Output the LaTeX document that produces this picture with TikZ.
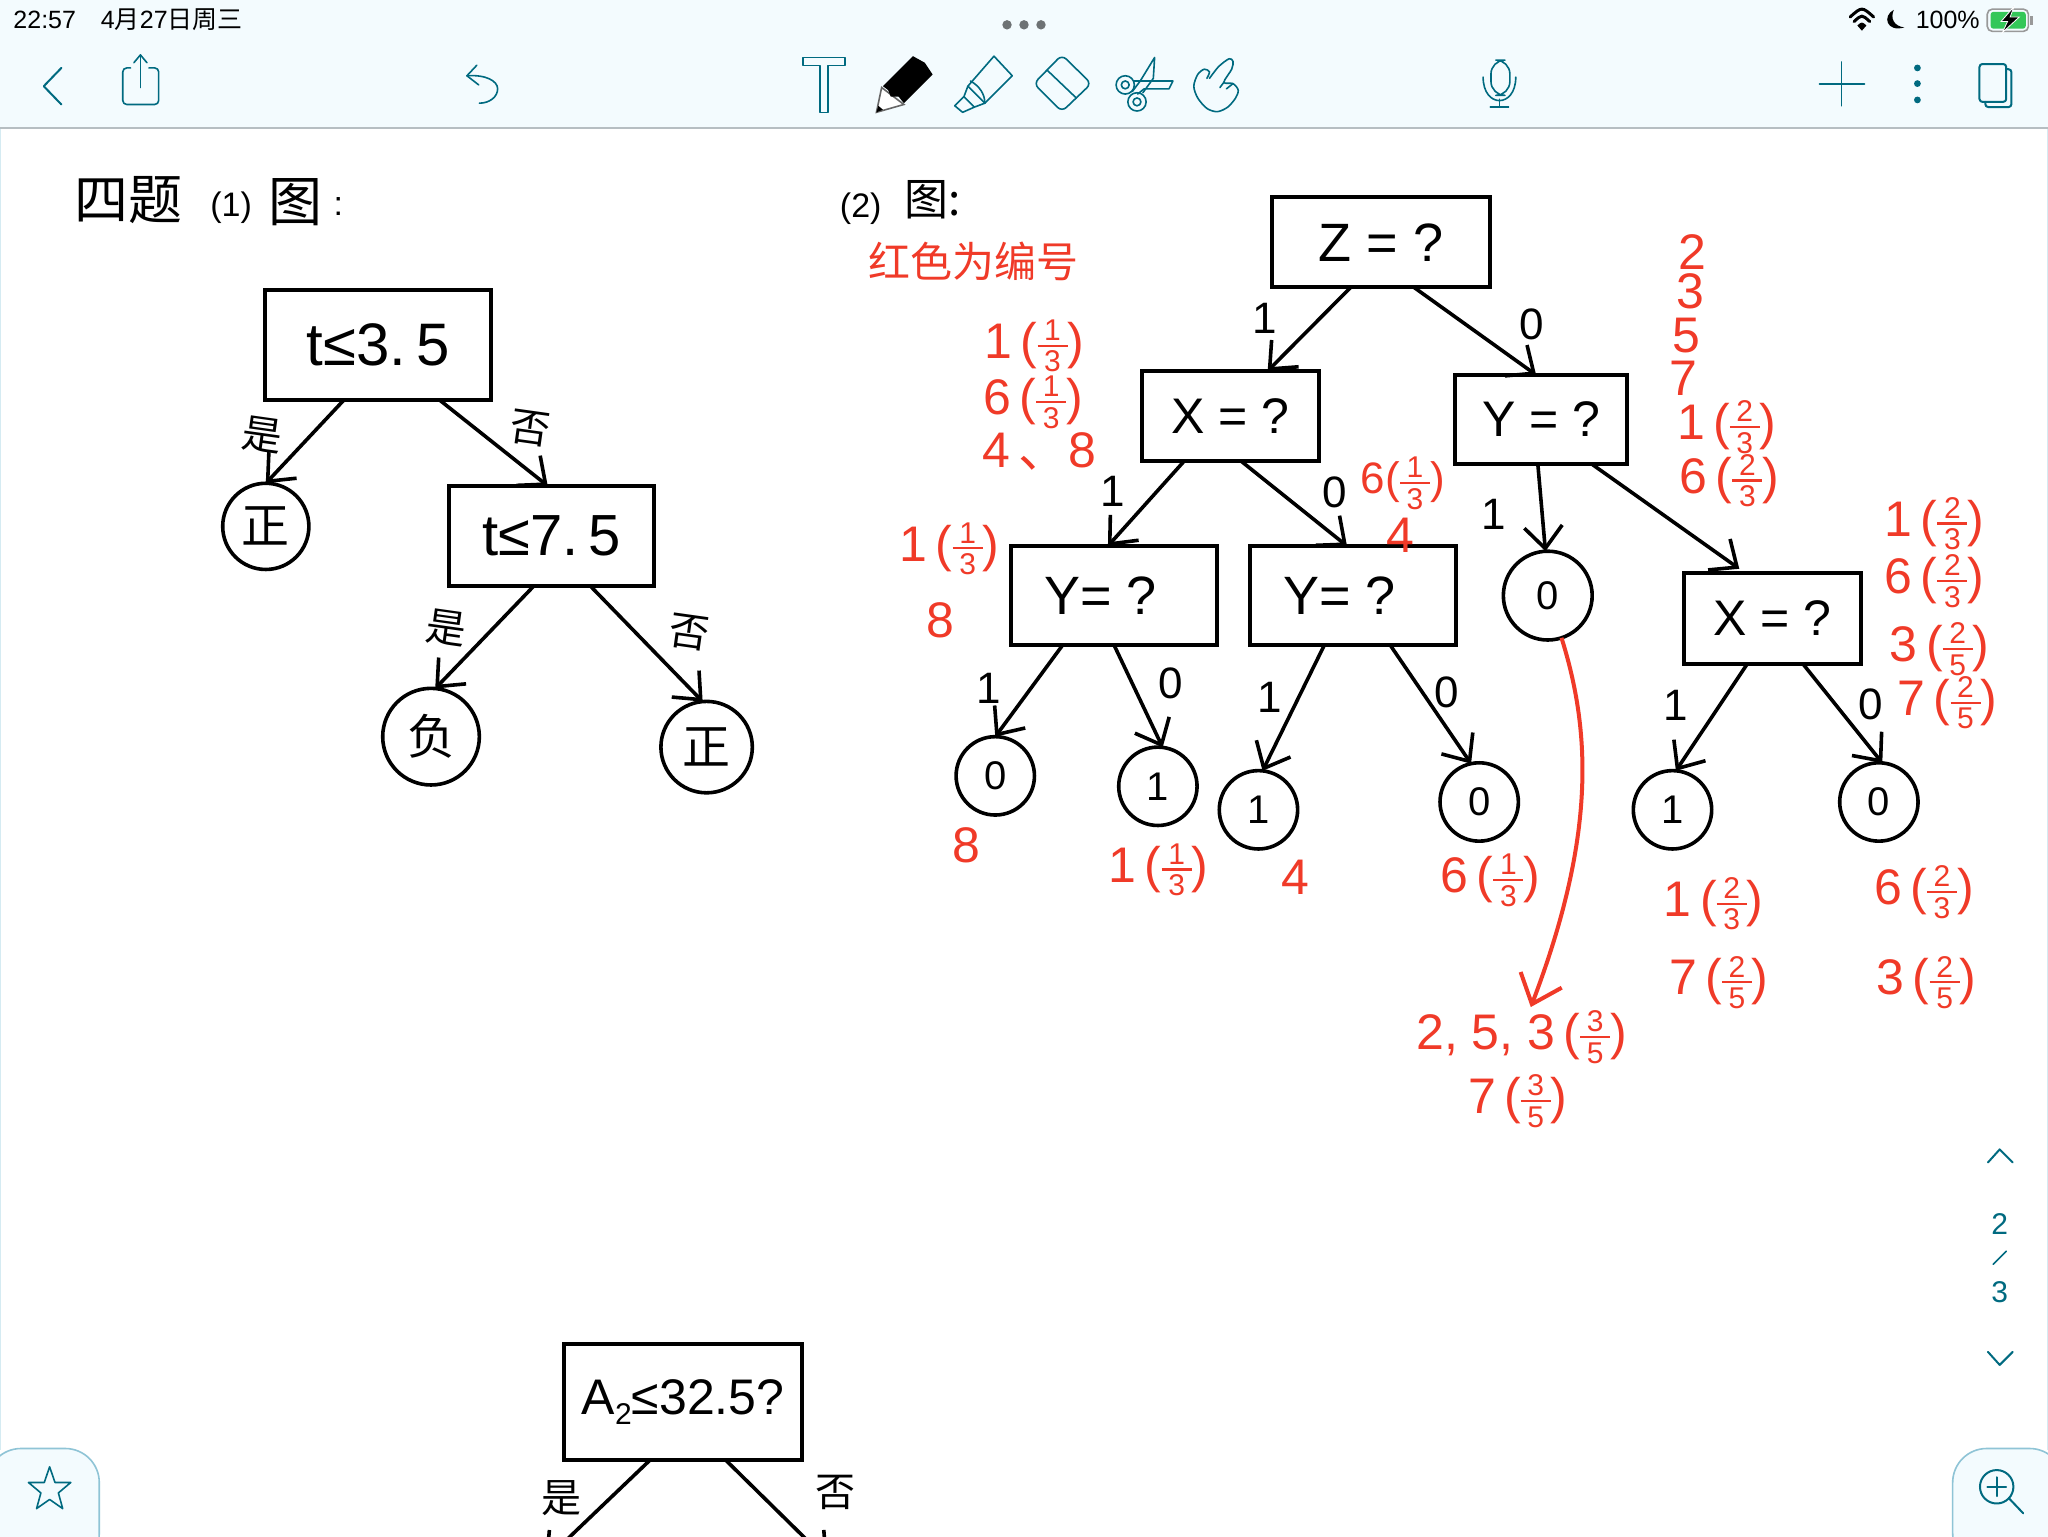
\documentclass[tikz,border=0pt]{standalone}
\usepackage{fontspec}
\setmainfont{Liberation Sans}
\newfontfamily\cjk{Noto Sans CJK SC}
\usetikzlibrary{calc,arrows.meta}
\definecolor{barbg}{HTML}{F3FBFE}
\definecolor{barline}{HTML}{B6BEC2}
\definecolor{icon}{HTML}{006A80}
\definecolor{inkred}{HTML}{F03A28}
\definecolor{tabline}{HTML}{8FC4D6}
\definecolor{battgreen}{HTML}{34C759}
\newcommand\fs[1]{\fontsize{#1}{#1}\selectfont}
\newcommand\fr[2]{$\vcenter{\offinterlineskip\halign{\hfil##\hfil\cr\hbox{\fs{15}#1}\cr\noalign{\vskip2pt}\vrule width 15pt height 1.2pt\cr\noalign{\vskip2pt}\hbox{\fs{15}#2}\cr}}$}
\newcommand\rf[3]{#1\,(\fr{#2}{#3})}
\tikzset{
  decbox/.style={draw=black,line width=2pt,inner sep=0pt,outer sep=0pt},
  leaf/.style={draw=black,circle,line width=1.8pt,inner sep=0pt,outer sep=0pt,font=\fs{20}},
  conn/.style={draw=black,line width=1.8pt,-{Straight Barb[length=11pt,width=19pt,line width=1.8pt]}},
  redconn/.style={draw=inkred,line width=2pt,-{Straight Barb[length=13pt,width=22pt,line width=2pt]}},
  redtxt/.style={text=inkred,font=\fs{25},inner sep=0pt},
  blk/.style={text=black,font=\fs{22},inner sep=0pt},
  han/.style={text=black,font=\fs{20}\cjk,inner sep=0pt},
  ui/.style={draw=icon,line width=0.8pt,line join=round,line cap=round},
  status/.style={text=black,font=\fs{12.5},inner sep=0pt},
}
\newcommand\boxn[7][]{\node[decbox,minimum width={(#3-#2)*0.653pt},minimum height={(#5-#4)*0.653pt},font=\fs{#6},#1] (#7) at ({(#2+#3)/2},{(#4+#5)/2})}
\newcommand\leafn[5]{\node[leaf,minimum size={2*#4*0.653pt}] (#1) at (#2,#3) {#5};}
\newcommand\edgeBB[4]{\draw[conn] ($(#1.south west)!#2!(#1.south east)$) -- ($(#3.north west)!#4!(#3.north east)$);}
\newcommand\edgeBC[4]{\draw[conn] ($(#1.south west)!#2!(#1.south east)$) -- (#3.#4);}
\begin{document}
\begin{tikzpicture}[x=0.653061pt,y=-0.653061pt]
\useasboundingbox (0,0) rectangle (1568,1176);
\clip (0,0) rectangle (1568,1176);
\fill[white] (0,0) rectangle (1568,1176);
% edges of page
\draw[barbg!70!tabline,line width=0.8pt] (0.4,98) -- (0.4,1110);
\draw[barbg!70!tabline,line width=0.8pt] (1567.6,98) -- (1567.6,1110);
% top bar
\fill[barbg] (0,0) rectangle (1568,98);
\draw[barline,line width=0.8pt] (0,98) -- (1568,98);
\node[status,anchor=west] (clock) at (10,15) {22:57};
\node[status,anchor=west] (date) at (77,15) {4{\cjk 月}27{\cjk 日周三}};
\node[status,anchor=east] (batt) at (1516,15) {100\%};
\foreach \x in {771,784,797} \fill[black!40!barline] (\x,19) circle[radius=3.6];
% wifi
\draw[black,line width=1.5pt,line cap=round] (1416.5,13) .. controls (1425.5,5) .. (1434.5,13);
\draw[black,line width=1.5pt,line cap=round] (1419.5,16.5) .. controls (1425.5,11) .. (1431.5,16.5);
\fill[black] (1425.5,23.5) -- (1422,19.5) .. controls (1425.5,16.5) .. (1429,19.5) -- cycle;
% moon
\fill[black] (1450,7.5) .. controls (1441,12) and (1444,25) .. (1458,21) .. controls (1450,20) and (1447,14) .. cycle;
% battery
\draw[black!40,rounded corners=2.5pt,line width=0.8pt] (1521.5,7) rectangle (1553,24);
\fill[battgreen,rounded corners=1.5pt] (1524,9) rectangle (1551,22);
\fill[black!40] (1554.5,12) rectangle (1556.5,19);
\filldraw[black,draw=white,line width=0.4pt] (1542,5) -- (1532,16.5) -- (1537,16.5) -- (1533,25) -- (1546,13) -- (1539,13) -- cycle;
% left toolbar icons
\draw[ui,line width=1pt] (47,52) -- (33.5,66) -- (47,80);
\draw[ui,rounded corners=2pt] (100,52) -- (94,52) -- (94,80) -- (121.5,80) -- (121.5,52) -- (114,52);
\draw[ui] (107.5,67) -- (107.5,42);
\draw[ui] (102.5,48) -- (107.5,42) -- (112.5,48);
\draw[ui] (365,50) -- (357.5,58) -- (366.5,65);
\draw[ui] (357.5,58) .. controls (372,57) and (381,62) .. (381,68) .. controls (381,74) and (375,79) .. (367,79);
% T
\draw[ui] (615,44) -- (647,44) -- (647,50) -- (634,50) -- (634,86) -- (628,86) -- (628,50) -- (615,50) -- cycle;
% pencil
\filldraw[white,draw=black!60,line width=0.8pt] (671,86) -- (675,67) -- (692,80) -- cycle;
\fill[black] (671,86) -- (672.5,81) -- (676,84) -- cycle;
\fill[black] (676,66) -- (699,43) -- (708,48) -- (714,57) -- (692,79) -- (688,74) -- (682,74) -- (680,69) -- cycle;
% highlighter
\draw[ui] (761,43) -- (775,58) -- (754,79) -- (741,66) -- cycle;
\draw[ui] (741,66) -- (738,74) -- (746,82) -- (754,79);
\draw[ui] (738,74) -- (731,81) -- (737,86) -- (746,82);
\draw[ui] (743,62) .. controls (750,66) and (754,72) .. (754,79);
% eraser
\draw[ui,rounded corners=3pt] (813,42) -- (835.5,64) -- (813,85.5) -- (791.5,64) -- cycle;
\draw[ui] (802,54) -- (824,75);
% scissors
\draw[ui] (861.5,65) circle[radius=7];
\draw[ui] (861.5,65) circle[radius=3];
\draw[ui] (870.5,78) circle[radius=7];
\draw[ui] (870.5,78) circle[radius=3];
\draw[ui] (867,70) -- (873,62) -- (884,44) -- (883,60) -- (875,71);
\draw[ui] (868,62) -- (898,62) -- (895,68) -- (876,68) -- (871,72);
% hand
\draw[ui] plot[smooth] coordinates {(926,60) (933,51) (941,45) (944,47) (943,53) (937,63) (944,64) (948,69) (946,75) (940,82) (932,85.5) (924,83) (917,75) (914,66) (917,57) (922,53) (926,55) (924,60)};
\draw[ui] (937,63) -- (934,67);
\draw[ui] (944,64) -- (939,68);
% mic
\draw[ui,rounded corners=7pt] (1141.5,46) rectangle (1156,73);
\draw[ui] (1135.5,59) .. controls (1135.5,83) and (1160.5,83) .. (1160.5,59);
\draw[ui] (1148,76) -- (1148,82);
\draw[ui] (1141,82) -- (1155,82);
% plus, dots, pages
\draw[ui] (1393,64.5) -- (1427.5,64.5);
\draw[ui] (1410,47.5) -- (1410,81);
\foreach \y in {52,64,76.5} \fill[icon] (1468,\y) circle[radius=2.6];
\draw[ui,line width=1pt,rounded corners=1.5pt] (1515.5,49) rectangle (1536,78);
\draw[ui,line width=1pt,rounded corners=1.5pt] (1536,53) -- (1540,53) -- (1540,82) -- (1520,82) -- (1520,78);
% side pager
\draw[ui,line width=1pt] (1522,890) -- (1531,880) -- (1541,890);
\node[text=icon,font=\fs{15},inner sep=0pt] (pg2) at (1531,937) {2};
\draw[ui] (1526,968) -- (1536,958);
\node[text=icon,font=\fs{15},inner sep=0pt] (pg3) at (1531,989) {3};
\draw[ui,line width=1pt] (1522,1035) -- (1531,1045) -- (1541,1035);
% bottom tabs
\filldraw[fill=barbg,draw=tabline,line width=0.8pt,rounded corners=17pt] (-10,1109) -- (76,1109) -- (76,1200) -- (-10,1200) -- cycle;
\filldraw[fill=barbg,draw=tabline,line width=0.8pt,rounded corners=17pt] (1580,1109) -- (1495,1109) -- (1495,1200) -- (1580,1200) -- cycle;
\draw[ui] (38,1123) -- (42.1,1135) -- (54.2,1135) -- (44.7,1143) -- (48,1155) -- (38,1148) -- (28,1155) -- (31.3,1143) -- (21.8,1135) -- (33.9,1135) -- cycle;
\draw[ui,line width=1pt] (1528.7,1138.3) circle[radius=12.8];
\draw[ui,line width=1pt] (1538,1147) -- (1549,1158.6);
\draw[ui,line width=1pt] (1521.5,1138.3) -- (1536,1138.3);
\draw[ui,line width=1pt] (1528.7,1131) -- (1528.7,1145.5);
% headings
\node[text=black,font=\fs{27}\cjk,inner sep=0pt] (head1a) at (98,153) {四题};
\node[text=black,font=\fs{17},inner sep=0pt] (head1b) at (177,159) {(1)};
\node[text=black,font=\fs{27}\cjk,inner sep=0pt] (head1c) at (226,155) {图};
\node[text=black,font=\fs{17},inner sep=0pt] (head1d) at (259,158) {:};
\node[text=black,font=\fs{17},inner sep=0pt] (head2a) at (659,160) {(2)};
\node[text=black,font=\fs{22}\cjk,inner sep=0pt] (head2b) at (714,153) {图:};
\node[text=inkred,font=\fs{21}\cjk,inner sep=0pt] (redhead) at (745,200) {红色为编号};
% ------- left tree
\boxn{203}{376}{222}{306}{30}{t1} {t≤3.\,5};
\boxn{344}{501}{372}{449}{29}{t2} {t≤7.\,5};
\leafn{p1}{203.5}{403}{33}{\fs{24}\cjk 正}
\leafn{n1}{330}{564}{37}{\fs{24}\cjk 负}
\leafn{p2}{541}{572}{35}{\fs{24}\cjk 正}
\edgeBC{t1}{.35}{p1}{90}
\edgeBB{t1}{.77}{t2}{.48}
\edgeBC{t2}{.41}{n1}{85}
\edgeBC{t2}{.69}{p2}{95}
\node[han,rotate=-8] (ly1) at (201,333) {是};
\node[han,rotate=-8] (ln1) at (406,328) {否};
\node[han,rotate=-8] (ly2) at (342,481) {是};
\node[han,rotate=-8] (ln2) at (528,484) {否};
% ------- right tree
\boxn{974}{1141}{151}{220}{27}{zq} {Z = ?};
\boxn{874}{1010}{284}{353}{25}{xa} {X = ?};
\boxn{1114}{1246}{287}{355}{25}{ya} {Y = ?};
\boxn{774}{932}{418}{494}{27}{yb} {\hspace*{-.5em}Y= ?};
\boxn{957}{1115}{418}{494}{27}{yc} {\hspace*{-.5em}Y= ?};
\boxn{1289}{1425}{439}{508}{25}{xb} {X = ?};
\leafn{c0}{1185}{456}{34}{0}
\leafn{c1}{762}{594}{30}{0}
\leafn{c2}{886.5}{602}{30}{1}
\leafn{c3}{963.5}{620}{30}{1}
\leafn{c4}{1132.5}{614}{30}{0}
\leafn{c5}{1280.5}{620}{30}{1}
\leafn{c6}{1438.5}{614}{30}{0}
\edgeBB{zq}{.36}{xa}{.71}
\edgeBB{zq}{.65}{ya}{.47}
\edgeBB{xa}{.24}{yb}{.47}
\edgeBB{xa}{.56}{yc}{.47}
\edgeBC{ya}{.48}{c0}{93}
\draw[conn,shorten >=4pt] ($(ya.south west)!.79!(ya.south east)$) -- ($(xb.north west)!.35!(xb.north east)$);
\edgeBC{yb}{.25}{c1}{90}
\edgeBC{yb}{.5}{c2}{83}
\edgeBC{yc}{.36}{c3}{84}
\edgeBC{yc}{.68}{c4}{102}
\edgeBC{xb}{.36}{c5}{85}
\edgeBC{xb}{.67}{c6}{85}
% edge labels
\node[blk] (e1) at (968,244) {1};
\node[blk] (e2) at (1173,248) {0};
\node[blk] (e3) at (852,376) {1};
\node[blk] (e4) at (1022,377) {0};
\node[blk] (e5) at (1144,394) {1};
\node[blk] (e6) at (757,527) {1};
\node[blk] (e7) at (896,523) {0};
\node[blk] (e8) at (972,534) {1};
\node[blk] (e9) at (1108,530) {0};
\node[blk] (e10) at (1283,540) {1};
\node[blk] (e11) at (1432,539) {0};
% red annotations
\node[redtxt] (r1) at (1296,193) {2};
\node[redtxt] (r2) at (1294,223) {3};
\node[redtxt] (r3) at (1291,257) {5};
\node[redtxt] (r4) at (1289,290) {7};
\node[redtxt] (r5) at (1322,327) {\rf{1}{2}{3}};
\node[redtxt] (r6) at (1324,368) {\rf{6}{2}{3}};
\node[redtxt] (r7) at (792,265) {\rf{1}{1}{3}};
\node[redtxt] (r8) at (791,308) {\rf{6}{1}{3}};
\node[redtxt] (r9) at (796,346) {4\,{\cjk 、}8};
\node[redtxt] (r10) at (727,420) {\rf{1}{1}{3}};
\node[redtxt] (r11) at (720,475) {8};
\node[redtxt,font=\fs{22}] (r12) at (1074,370) {6(\fr{1}{3})};
\node[redtxt] (r13) at (1072,410) {4};
\node[redtxt] (r14) at (1481,401) {\rf{1}{2}{3}};
\node[redtxt] (r15) at (1481,445) {\rf{6}{2}{3}};
\node[redtxt] (r16) at (1485,497) {\rf{3}{2}{5}};
\node[redtxt] (r17) at (1491,538) {\rf{7}{2}{5}};
\node[redtxt] (r18) at (740,647) {8};
\node[redtxt] (r19) at (887,666) {\rf{1}{1}{3}};
\node[redtxt] (r20) at (992,672) {4};
\node[redtxt] (r21) at (1141,674) {\rf{6}{1}{3}};
\node[redtxt] (r22) at (1312,692) {\rf{1}{2}{3}};
\node[redtxt] (r23) at (1473,683) {\rf{6}{2}{3}};
\node[redtxt] (r24) at (1316,752) {\rf{7}{2}{5}};
\node[redtxt] (r25) at (1475,752) {\rf{3}{2}{5}};
\node[redtxt] (r26) at (1165,794) {2, 5, \rf{3}{3}{5}};
\node[redtxt] (r27) at (1162,843) {\rf{7}{3}{5}};
\coordinate (redend) at (1172,771);
\draw[redconn] (c0.-72) .. controls (1218,560) and (1222,640) .. (redend);
% ------- bottom tree (cut by the page)
\boxn{432}{614}{1029}{1118}{25}{a2} {\raisebox{-.25em}{A\raisebox{-.2em}{\fs{15}2}≤32.5?}};
\coordinate (a2l) at (417,1195);
\coordinate (a2r) at (634,1195);
\draw[conn] ($(a2.south west)!.36!(a2.south east)$) -- (a2l);
\draw[conn] ($(a2.south west)!.68!(a2.south east)$) -- (a2r);
\node[han] (ly3) at (430,1147) {是};
\node[han] (ln3) at (640,1143) {否};
\end{tikzpicture}
\end{document}
